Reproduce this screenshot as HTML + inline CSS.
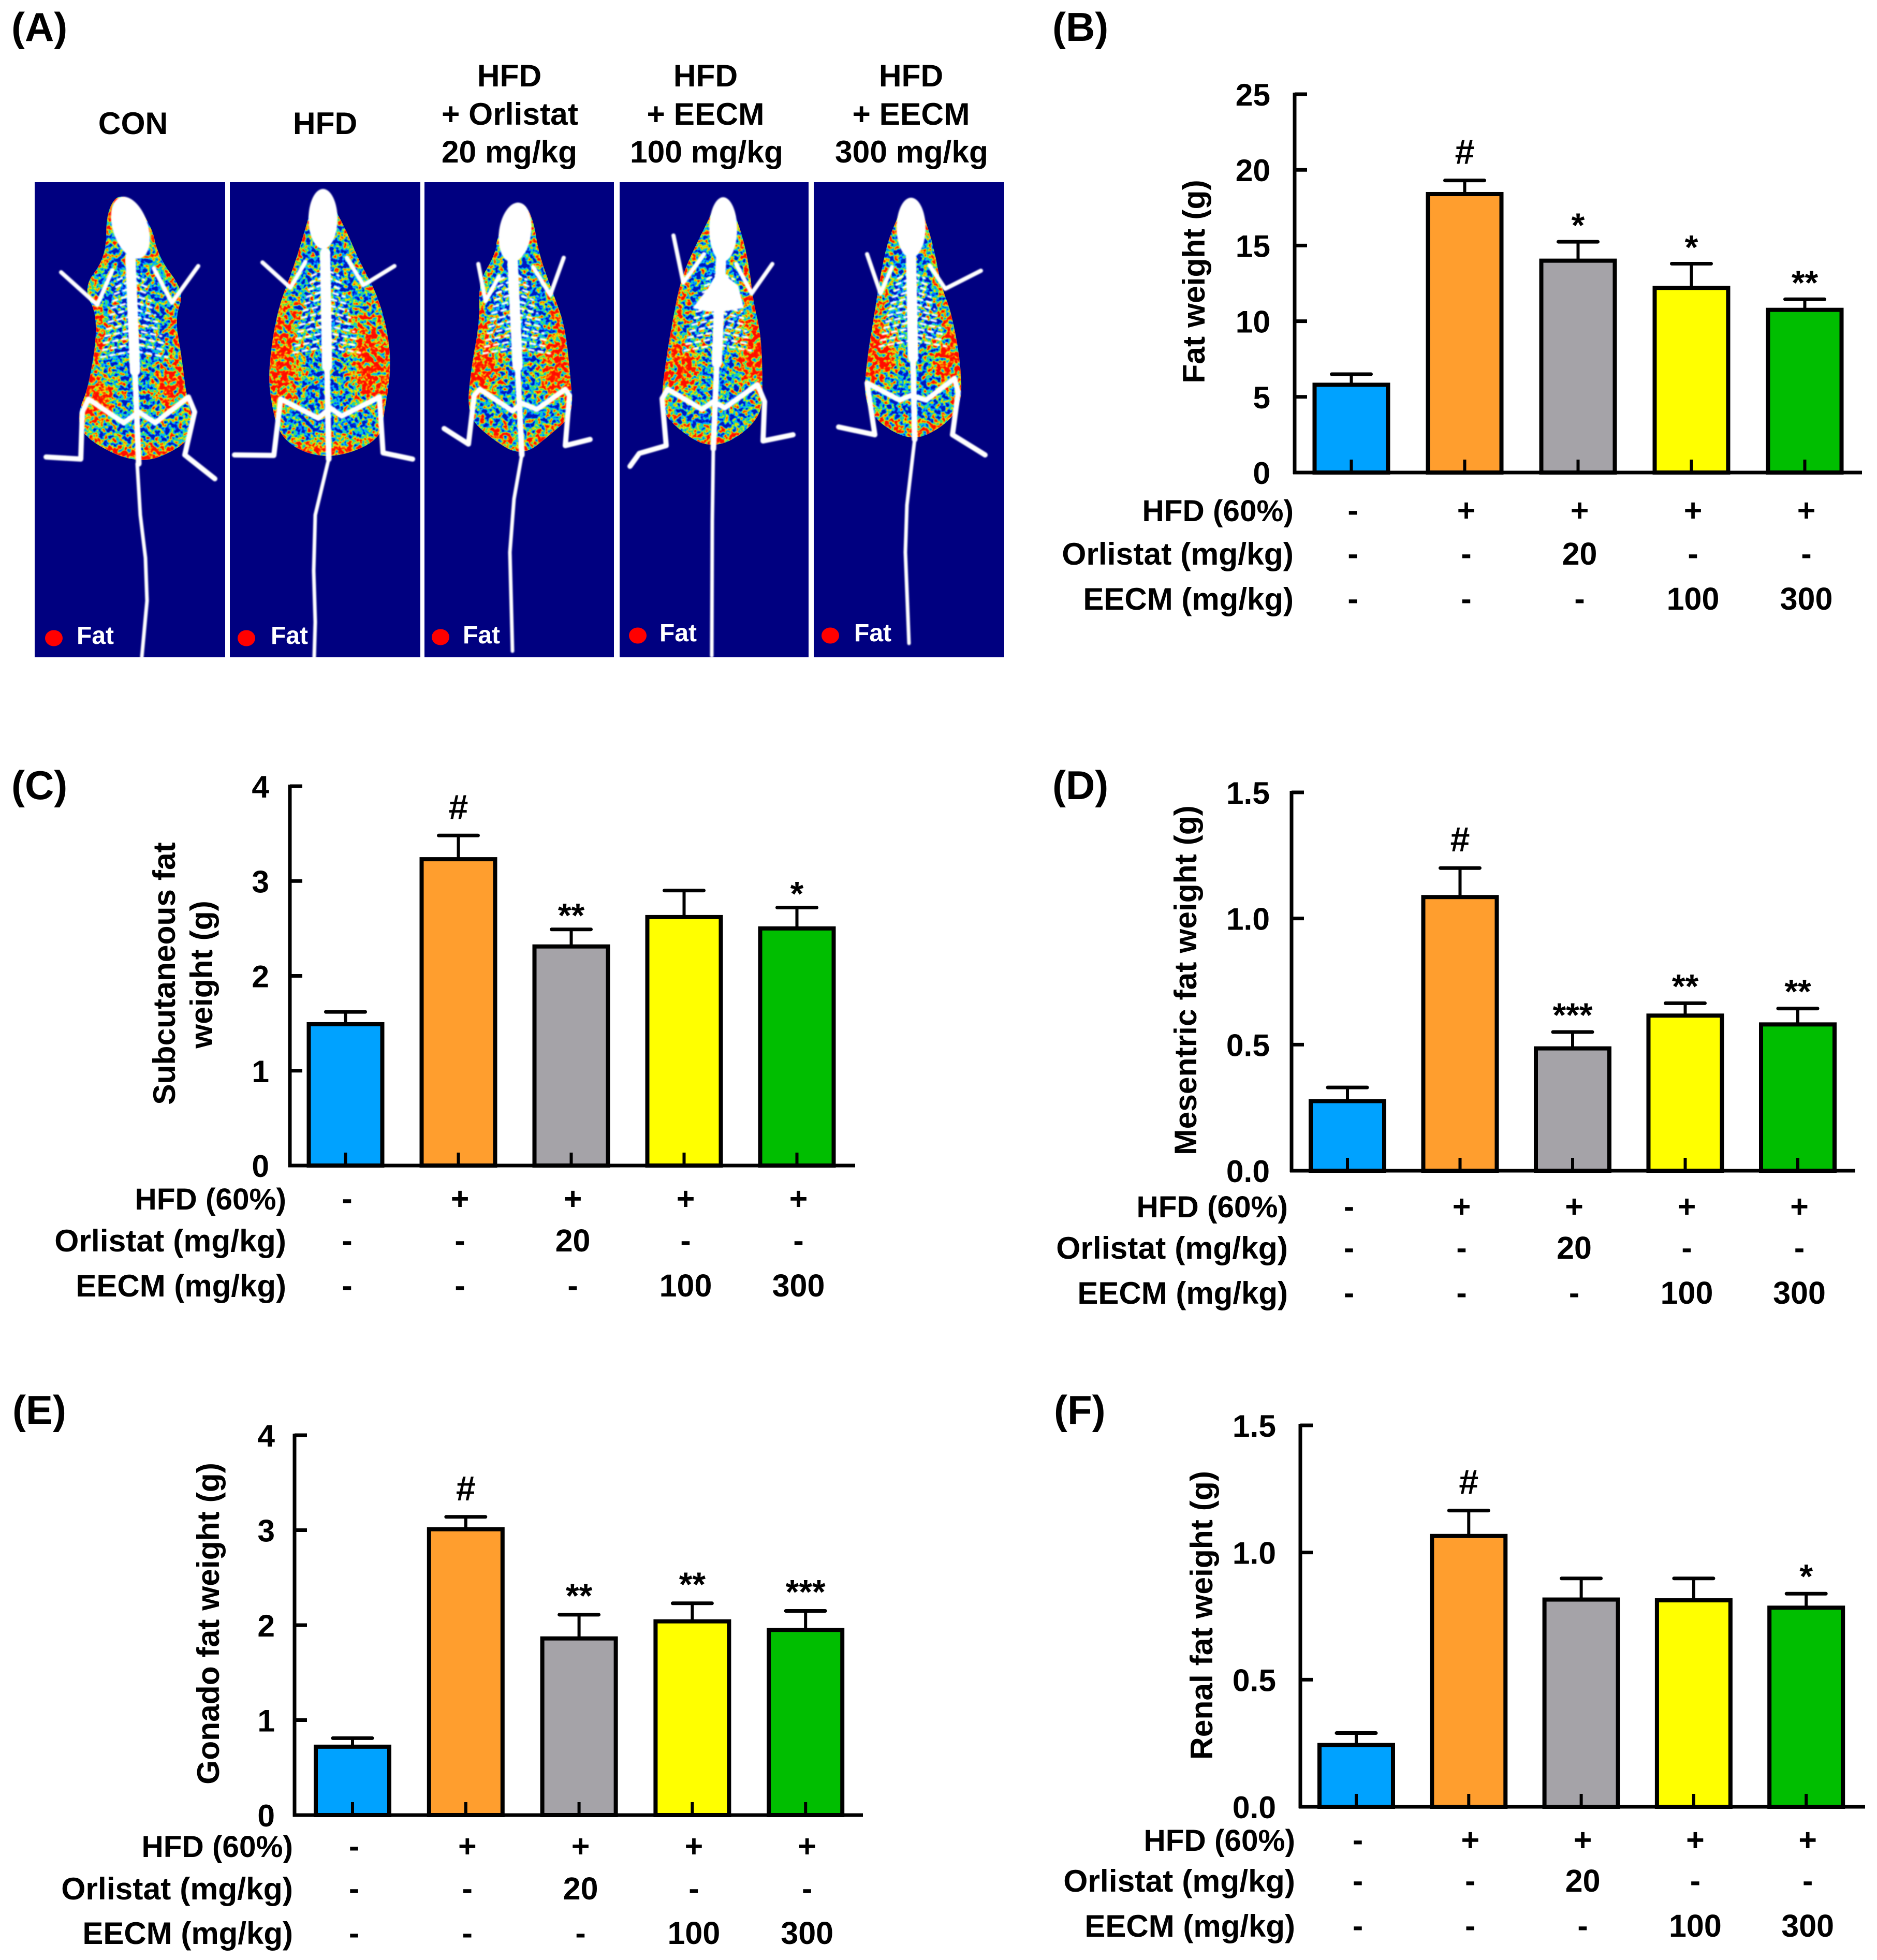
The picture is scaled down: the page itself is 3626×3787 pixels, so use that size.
<!DOCTYPE html>
<html lang="en">
<head>
<meta charset="utf-8">
<title>Fat weight figure</title>
<style>
html,body{margin:0;padding:0;background:#fff;}
svg{display:block;}
text{font-family:"Liberation Sans",Arial,sans-serif;font-weight:bold;fill:#000;}
</style>
</head>
<body>
<svg id="fig" xmlns="http://www.w3.org/2000/svg" width="3626" height="3787" viewBox="0 0 3626 3787">
<defs>
<filter id="fat" color-interpolation-filters="sRGB" x="-5%" y="-5%" width="110%" height="110%">
<feTurbulence type="fractalNoise" baseFrequency="0.11" numOctaves="2" seed="7" result="n"/>
<feColorMatrix in="n" type="matrix" values="1 0 0 0 0 1 0 0 0 0 1 0 0 0 0 0 0 0 0 1" result="g"/>
<feComposite in="SourceGraphic" in2="g" operator="arithmetic" k1="0" k2="1" k3="2.2" k4="-1.1" result="sum"/>
<feComponentTransfer in="sum" result="col">
<feFuncR type="table" tableValues="0 0 0 .2 .95 1 1 1"/>
<feFuncG type="table" tableValues=".1 .3 .75 .88 .92 .45 .12 .05"/>
<feFuncB type="table" tableValues=".75 1 1 .4 0 0 0 0"/>
</feComponentTransfer>
<feGaussianBlur in="col" stdDeviation="0.9" result="soft"/>
<feComposite in="soft" in2="SourceAlpha" operator="in"/>
</filter>
<filter id="blurHot" color-interpolation-filters="sRGB" x="-60%" y="-60%" width="220%" height="220%"><feGaussianBlur stdDeviation="17"/></filter>
<filter id="blurEdge" color-interpolation-filters="sRGB" x="-10%" y="-10%" width="120%" height="120%"><feGaussianBlur stdDeviation="8"/></filter>
<filter id="soft" color-interpolation-filters="sRGB" x="-10%" y="-10%" width="120%" height="120%"><feGaussianBlur stdDeviation="1.2"/></filter>
</defs>

<g>
<g id="scans"></g>
<text x="22" y="79" font-size="78">(A)</text>
<g font-size="60.5" text-anchor="middle">
<text x="257" y="259">CON</text>
<text x="628" y="259">HFD</text>
<text x="984" y="167">HFD</text>
<text x="985" y="241">+ Orlistat</text>
<text x="984" y="314">20 mg/kg</text>
<text x="1363" y="167">HFD</text>
<text x="1363" y="241">+ EECM</text>
<text x="1365" y="314">100 mg/kg</text>
<text x="1760" y="167">HFD</text>
<text x="1760" y="241">+ EECM</text>
<text x="1761" y="314">300 mg/kg</text>
</g>
</g>
<g id="charts"></g>
</svg>

<script>
// ---- chart data -------------------------------------------------------
const categories = ['CON', 'HFD', 'HFD+Orlistat 20', 'HFD+EECM 100', 'HFD+EECM 300'];
const hfdRow = ['-', '+', '+', '+', '+'];
const orlistatRow = ['-', '-', '20', '-', '-'];
const eecmRow = ['-', '-', '-', '100', '300'];
const rowLabels = ['HFD (60%)', 'Orlistat (mg/kg)', 'EECM (mg/kg)'];
const barColors = ['#00A2FF', '#FF9E2E', '#A5A3A8', '#FFFF00', '#00BE00'];

const bValues = [5.8, 18.4, 14.0, 12.2, 10.75];
const bErrors = [0.7, 0.9, 1.25, 1.6, 0.7];
const bMarks = ['', '#', '*', '*', '**'];
const bTicks = [0, 5, 10, 15, 20, 25];
const bTickLabels = ['0', '5', '10', '15', '20', '25'];

const cValues = [1.49, 3.23, 2.31, 2.62, 2.5];
const cErrors = [0.13, 0.25, 0.18, 0.28, 0.22];
const cMarks = ['', '#', '**', '', '*'];
const cTicks = [0, 1, 2, 3, 4];
const cTickLabels = ['0', '1', '2', '3', '4'];

const dValues = [0.276, 1.085, 0.485, 0.615, 0.58];
const dErrors = [0.054, 0.115, 0.065, 0.049, 0.063];
const dMarks = ['', '#', '***', '**', '**'];
const dTicks = [0, 0.5, 1, 1.5];
const dTickLabels = ['0.0', '0.5', '1.0', '1.5'];

const eValues = [0.72, 3.01, 1.86, 2.04, 1.95];
const eErrors = [0.09, 0.13, 0.25, 0.19, 0.2];
const eMarks = ['', '#', '**', '**', '***'];
const eTicks = [0, 1, 2, 3, 4];
const eTickLabels = ['0', '1', '2', '3', '4'];

const fValues = [0.243, 1.065, 0.815, 0.812, 0.783];
const fErrors = [0.047, 0.1, 0.083, 0.086, 0.055];
const fMarks = ['', '#', '', '', '*'];
const fTicks = [0, 0.5, 1, 1.5];
const fTickLabels = ['0.0', '0.5', '1.0', '1.5'];

const NS = 'http://www.w3.org/2000/svg';
function el(tag, attrs, parent, txt) {
  const e = document.createElementNS(NS, tag);
  for (const k in attrs) e.setAttribute(k, attrs[k]);
  if (txt !== undefined) e.textContent = txt;
  parent.appendChild(e);
  return e;
}

function drawChart(p) {
  const root = document.getElementById('charts');
  const g = el('g', {}, root);
  
  
  const y = v => p.base - (v / p.yMax) * (p.base - p.top);
  const x = i => p.c0 + i * p.step;
  const rowFont = [58.5, 60.6, 60];

  const letter = el('text', {x: p.letterX, y: p.letterY, 'font-size': 78}, g, p.letter);
  
  

  p.titles.forEach(function (t, i) {
    const tt = el('text', {'font-size': 60.5, 'text-anchor': 'middle', transform: 'translate(' + t.x + ',' + t.y + ') rotate(-90)'}, g, t.text);
    
    
  });

  p.values.forEach(function (v, i) {
    const top = y(v + p.errors[i]);
    const stem = el('line', {x1: x(i), x2: x(i), y1: y(v), y2: top, stroke: '#000', 'stroke-width': 6}, g);
    
    
    const cap = el('line', {x1: x(i) - 38, x2: x(i) + 38, y1: top, y2: top, stroke: '#000', 'stroke-width': 7, 'stroke-linecap': 'round'}, g);
    
    
    const bar = el('rect', {x: x(i) - 71, y: y(v), width: 142, height: p.base - y(v), fill: barColors[i], stroke: '#000', 'stroke-width': 8}, g);
    
    
    const tick = el('line', {x1: x(i), x2: x(i), y1: p.base, y2: p.base - 25, stroke: '#000', 'stroke-width': 6}, g);
    
    
    if (p.marks[i]) {
      const isHash = p.marks[i] === '#';
      const m = el('text', {x: x(i), y: top + (isHash ? -32 : p.starOffset), 'font-size': isHash ? 68 : 66, 'text-anchor': 'middle'}, g, p.marks[i]);
      
      
    }
  });

  const yAxis = el('line', {x1: p.axisX, x2: p.axisX, y1: p.top - 3, y2: p.base + 3, stroke: '#000', 'stroke-width': 7}, g);
  
  
  const xAxis = el('line', {x1: p.axisX - 3, x2: p.xEnd, y1: p.base, y2: p.base, stroke: '#000', 'stroke-width': 7}, g);
  
  

  p.ticks.forEach(function (t, i) {
    const tk = el('line', {x1: p.axisX, x2: p.axisX + 24, y1: y(t), y2: y(t), stroke: '#000', 'stroke-width': 7}, g);
    
    
    const lb = el('text', {x: p.axisX - p.labelGap, y: y(t) + 22, 'font-size': 60.5, 'text-anchor': 'end'}, g, p.tickLabels[i]);
    
    
  });

  [hfdRow, orlistatRow, eecmRow].forEach(function (row, r) {
    const rl = el('text', {x: p.rowRight, y: p.rowY[r] + 21, 'font-size': rowFont[r], 'text-anchor': 'end'}, g, rowLabels[r]);
    
    
    row.forEach(function (s, i) {
      const c = el('text', {x: x(i) + 3, y: p.rowY[r] + 21, 'font-size': 61, 'text-anchor': 'middle'}, g, s);
      
      
    });
  });
}

drawChart({id: 'b', letter: '(B)', letterX: 2033, letterY: 79, values: bValues, errors: bErrors, marks: bMarks, ticks: bTicks, tickLabels: bTickLabels, yMax: 25, starOffset: -9,
  axisX: 2501, top: 182, base: 913, xEnd: 3597, c0: 2610.5, step: 219, labelGap: 47, rowRight: 2499, rowY: [986, 1070, 1157],
  titles: [{text: 'Fat weight (g)', x: 2327, y: 544}]});
drawChart({id: 'c', letter: '(C)', letterX: 22, letterY: 1544, values: cValues, errors: cErrors, marks: cMarks, ticks: cTicks, tickLabels: cTickLabels, yMax: 4, starOffset: -4,
  axisX: 560, top: 1519, base: 2252, xEnd: 1652, c0: 667.5, step: 218, labelGap: 40, rowRight: 553, rowY: [2316, 2397, 2484],
  titles: [{text: 'Subcutaneous fat', x: 338, y: 1881}, {text: 'weight (g)', x: 410, y: 1883}]});
drawChart({id: 'd', letter: '(D)', letterX: 2033, letterY: 1544, values: dValues, errors: dErrors, marks: dMarks, ticks: dTicks, tickLabels: dTickLabels, yMax: 1.5, starOffset: -10,
  axisX: 2495, top: 1531, base: 2262, xEnd: 3584, c0: 2603, step: 217.5, labelGap: 42, rowRight: 2488, rowY: [2331, 2411, 2498],
  titles: [{text: 'Mesentric fat weight (g)', x: 2311, y: 1894}]});
drawChart({id: 'e', letter: '(E)', letterX: 24, letterY: 2751, values: eValues, errors: eErrors, marks: eMarks, ticks: eTicks, tickLabels: eTickLabels, yMax: 4, starOffset: -14,
  axisX: 569, top: 2773, base: 3507, xEnd: 1667, c0: 681, step: 218.8, labelGap: 38, rowRight: 566, rowY: [3567, 3649, 3735],
  titles: [{text: 'Gonado fat weight (g)', x: 423, y: 3137}]});
drawChart({id: 'f', letter: '(F)', letterX: 2036, letterY: 2751, values: fValues, errors: fErrors, marks: fMarks, ticks: fTicks, tickLabels: fTickLabels, yMax: 1.5, starOffset: -11,
  axisX: 2512, top: 2754, base: 3491, xEnd: 3603, c0: 2620, step: 217.3, labelGap: 47, rowRight: 2502, rowY: [3555, 3634, 3721],
  titles: [{text: 'Renal fat weight (g)', x: 2342, y: 3121}]});

// ---- fat-scan illustrations (decorative drawing, not chart data) -------
const mice = [
 {id:'con', box:[67,352,368,918], dot:[104,1233], fat:[148,1244],
  body:[[236,368],[292,430],[306,497],[357,564],[338,614],[351,688],[360,763],[376,821],[357,862],[268,900],[159,846],[150,796],[172,746],[191,614],[159,556],[205,497],[205,406]],
  head:[252,440,34,62,-18], spine:[[252,497],[268,896]],
  tail:[[265,896],[271,995],[281,1078],[284,1161],[274,1269]],
  armL:[[118,526],[188,589],[217,522]], armR:[[383,514],[332,585],[297,518]],
  legs:[[89,883],[156,887],[159,796],[171,771],[239,817],[268,796],[300,817],[364,767],[376,796],[357,879],[415,925]],
  hot:[[190,771,32,48],[330,745,28,52],[268,878,70,18],[195,645,12,42],[345,640,12,42]]},
 {id:'hfd', box:[444,352,368,918], dot:[476,1233], fat:[523,1244],
  body:[[615,350],[663,431],[695,506],[727,564],[749,638],[756,713],[743,796],[733,854],[631,890],[542,854],[520,763],[520,697],[536,597],[568,514],[593,431]],
  head:[624,423,28,58,0], spine:[[628,489],[635,887]],
  tail:[[635,887],[609,995],[606,1103],[609,1202],[607,1269]],
  armL:[[507,507],[561,556],[590,506]], armR:[[762,514],[702,551],[670,498]],
  legs:[[453,879],[529,880],[542,771],[615,808],[638,788],[660,804],[733,767],[740,875],[797,887]],
  hot:[[545,705,32,84],[715,705,34,84],[631,870,80,18],[566,610,12,36],[697,620,12,36]]},
 {id:'orlistat', box:[820,352,366,918], dot:[851,1231], fat:[894,1243],
  body:[[1004,384],[1030,419],[1041,491],[1070,570],[1092,631],[1103,734],[1107,801],[1067,837],[1008,884],[942,843],[902,801],[909,716],[927,619],[924,546],[957,491],[960,455]],
  head:[995,449,31,58,8], spine:[[990,498],[1008,879]],
  tail:[[1008,879],[993,964],[985,1067],[990,1258]],
  armL:[[924,510],[938,582],[964,534]], armR:[[1089,498],[1063,570],[1030,516]],
  legs:[[858,828],[905,858],[916,764],[927,752],[990,794],[1008,779],[1037,791],[1092,752],[1100,764],[1092,861],[1140,849]],
  hot:[[936,710,30,60],[1074,716,28,64],[964,845,34,18],[1052,848,32,18],[1084,643,12,46],[932,640,11,38]]},
 {id:'eecm100', box:[1197,352,365,918], dot:[1232,1228], fat:[1274,1239],
  body:[[1400,362],[1433,449],[1448,516],[1455,582],[1470,643],[1474,740],[1470,813],[1378,874],[1294,819],[1276,776],[1287,691],[1298,625],[1316,534],[1353,455]],
  head:[1397,443,27,62,0], spine:[[1393,498],[1378,867]],
  tail:[[1378,867],[1376,1007],[1375,1267]],
  armL:[[1301,455],[1320,546],[1360,491]], armR:[[1492,510],[1452,567],[1422,510]],
  legs:[[1217,901],[1235,876],[1287,861],[1279,770],[1290,752],[1356,791],[1378,776],[1400,788],[1463,743],[1477,776],[1474,852],[1532,840]],
  hot:[[1318,710,32,58],[1455,685,28,68],[1312,590,10,46],[1458,595,11,46],[1375,855,46,16]],
  chest:[[1338,595],[1367,558],[1389,522],[1426,552],[1437,595],[1397,602],[1367,602]]},
 {id:'eecm300', box:[1572,352,368,918], dot:[1604,1228], fat:[1650,1239],
  body:[[1760,370],[1789,425],[1807,491],[1818,552],[1837,600],[1855,691],[1859,782],[1822,825],[1763,853],[1697,819],[1668,770],[1675,691],[1690,600],[1701,528],[1719,449]],
  head:[1760,440,28,58,0], spine:[[1760,498],[1767,849]],
  tail:[[1767,849],[1752,976],[1749,1067],[1756,1243]],
  armL:[[1675,491],[1701,567],[1723,516]], armR:[[1895,523],[1826,558],[1796,513]],
  legs:[[1620,825],[1690,840],[1675,740],[1738,773],[1760,764],[1789,773],[1844,731],[1851,758],[1840,840],[1903,879]],
  hot:[[1702,685,32,54],[1830,698,28,48],[1727,835,32,16],[1793,838,30,16],[1696,610,10,38],[1834,620,10,38]]}
];

function smooth(pts) {
  const n = pts.length;
  const mid = (a, b) => [(a[0] + b[0]) / 2, (a[1] + b[1]) / 2];
  let m = mid(pts[n - 1], pts[0]);
  let d = 'M' + m[0] + ' ' + m[1];
  for (let i = 0; i < n; i++) {
    const q = mid(pts[i], pts[(i + 1) % n]);
    d += 'Q' + pts[i][0] + ' ' + pts[i][1] + ' ' + q[0] + ' ' + q[1];
  }
  return d + 'Z';
}
function pl(pts) { return pts.map(p => p.join(',')).join(' '); }

const scans = document.getElementById('scans');
const defs = document.querySelector('defs');
mice.forEach(function (mouse) {
  const g = el('g', {}, scans);
  
  
  const b = mouse.box;
  const bg = el('rect', {x: b[0], y: b[1], width: b[2], height: b[3], fill: '#000080'}, g);
  
  

  const bodyD = smooth(mouse.body);
  const clip = el('clipPath', {id: 'clip-' + mouse.id}, defs);
  el('path', {d: bodyD}, clip);

  const outer = el('g', {filter: 'url(#fat)'}, g);
  
  
  const inner = el('g', {'clip-path': 'url(#clip-' + mouse.id + ')'}, outer);
  el('path', {d: bodyD, fill: '#424242'}, inner);
  el('path', {d: bodyD, fill: 'none', stroke: '#9a9a9a', 'stroke-width': 22, filter: 'url(#blurEdge)'}, inner);
  mouse.hot.forEach(function (h) {
    el('ellipse', {cx: h[0], cy: h[1], rx: h[2], ry: h[3], fill: '#dcdcdc', filter: 'url(#blurHot)'}, inner);
  });

  const skel = el('g', {fill: 'none', stroke: '#fff', 'stroke-linecap': 'round', 'stroke-linejoin': 'round', filter: 'url(#soft)'}, g);
  
  
  const s0 = mouse.spine[0], s1 = mouse.spine[1];
  const len = s1[1] - s0[1];
  // ribs
  for (let j = 0; j < 12; j++) {
    const t = 0.08 + j * 0.034;
    const cx = s0[0] + (s1[0] - s0[0]) * t, cy = s0[1] + len * t;
    const w = 26 + j * 3.5;
    el('path', {d: 'M' + (cx - w) + ' ' + (cy + 12) + 'L' + cx + ' ' + cy + 'L' + (cx + w) + ' ' + (cy + 12), 'stroke-width': 4, 'stroke-dasharray': '9 9'}, skel);
  }
  el('polyline', {points: pl(mouse.tail), 'stroke-width': 7}, skel);
  el('line', {x1: s0[0], y1: s0[1], x2: s0[0] + (s1[0] - s0[0]) * .55, y2: s0[1] + len * .55, 'stroke-width': 20}, skel);
  el('line', {x1: s0[0], y1: s0[1], x2: s1[0], y2: s1[1], 'stroke-width': 11}, skel);
  el('polyline', {points: pl(mouse.armL), 'stroke-width': 8}, skel);
  el('polyline', {points: pl(mouse.armR), 'stroke-width': 8}, skel);
  el('polyline', {points: pl(mouse.legs), 'stroke-width': 10}, skel);
  const h = mouse.head;
  el('ellipse', {cx: h[0], cy: h[1], rx: h[2], ry: h[3], fill: '#fff', stroke: 'none', transform: 'rotate(' + h[4] + ' ' + h[0] + ' ' + h[1] + ')'}, skel);
  if (mouse.chest) el('polygon', {points: pl(mouse.chest), fill: '#fff', stroke: 'none'}, skel);

  const dot = el('ellipse', {cx: mouse.dot[0], cy: mouse.dot[1], rx: 17, ry: 15.5, fill: '#ff0000'}, g);
  
  
  const ft = el('text', {x: mouse.fat[0], y: mouse.fat[1], 'font-size': 48, style: 'fill:#fff'}, g, 'Fat');
  
  
});
</script>
</body>
</html>
